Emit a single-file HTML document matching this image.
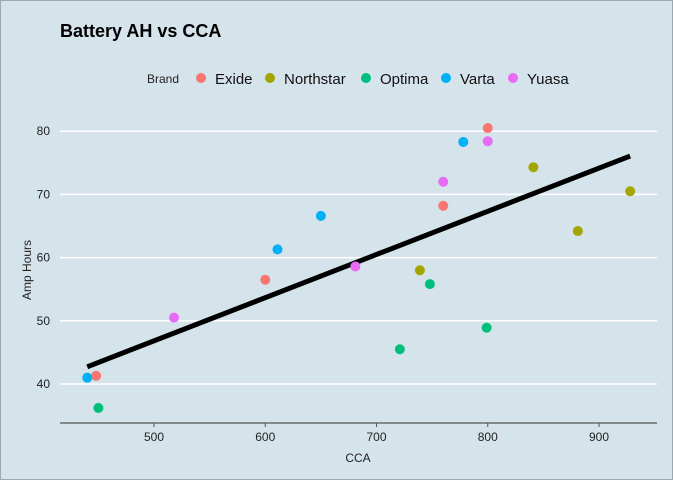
<!DOCTYPE html>
<html><head><meta charset="utf-8"><style>
body{margin:0;background:#d5e3ea;}
svg{display:block;font-family:"Liberation Sans",sans-serif;}
</style></head><body>
<svg id="c" width="673" height="480">
<rect x="0.5" y="0.5" width="672" height="479" fill="#d5e3ea" stroke="#9aa9b0"/>
<text x="60" y="37" font-size="18" font-weight="bold" fill="#000">Battery AH vs CCA</text>
<g id="legend"></g>
<g id="grid"></g>
<g id="axes"></g>
<g id="marks"></g>
<text x="358" y="462" font-size="12" text-anchor="middle" fill="#222">CCA</text>
<text x="0" y="0" font-size="12" text-anchor="middle" fill="#222" transform="translate(31,270) rotate(-90)">Amp Hours</text>
</svg>
<script>
const brands=["Exide","Northstar","Optima","Varta","Yuasa"];
const colors=["#f8766d","#a3a500","#00bf7d","#00b0f6","#e76bf3"];
const pointBrand=[0,0,0,0,1,1,1,1,2,2,2,2,3,3,3,3,4,4,4,4];
const cca=[448,600,760,800,739,841,881,928,450,721,748,799,440,611,650,778,518,681,760,800];
const ah=[41.3,56.5,68.2,80.5,58.0,74.3,64.2,70.5,36.2,45.5,55.8,48.9,41.0,61.3,66.6,78.3,50.5,58.6,72.0,78.4];
const xTicks=[500,600,700,800,900];
const yTicks=[40,50,60,70,80];
const NS="http://www.w3.org/2000/svg";
const sx=v=>154+(v-500)*1.1125;
const sy=v=>384-(v-40)*6.32;
function mk(t,a,p){const e=document.createElementNS(NS,t);for(const k in a)e.setAttribute(k,a[k]);p.appendChild(e);return e;}
const grid=document.getElementById('grid'),axes=document.getElementById('axes'),marks=document.getElementById('marks'),legend=document.getElementById('legend');
yTicks.forEach(v=>{
 const l=mk('line',{x1:60,x2:657,y1:sy(v),y2:sy(v),stroke:'#fff','stroke-width':1.5},grid);
 
 
 const t=mk('text',{x:50,y:sy(v)+4,'font-size':12,'text-anchor':'end',fill:'#222'},axes);t.textContent=v;
 
 
});
const ax=mk('line',{x1:60,x2:657,y1:423,y2:423,stroke:'#555','stroke-width':1.2},axes);


xTicks.forEach(v=>{
 const tk=mk('line',{x1:sx(v),x2:sx(v),y1:423,y2:427,stroke:'#555'},axes);
 
 
 const t=mk('text',{x:sx(v),y:441,'font-size':12,'text-anchor':'middle',fill:'#222'},axes);t.textContent=v;
 
 
});
// regression
const n=cca.length;let mx=0,my=0;for(let i=0;i<n;i++){mx+=cca[i];my+=ah[i];}mx/=n;my/=n;
let sxy=0,sxx=0;for(let i=0;i<n;i++){sxy+=(cca[i]-mx)*(ah[i]-my);sxx+=(cca[i]-mx)**2;}
const b=sxy/sxx,a0=my-b*mx;const xmin=Math.min(...cca),xmax=Math.max(...cca);
const rl=mk('line',{x1:sx(xmin),y1:sy(a0+b*xmin),x2:sx(xmax),y2:sy(a0+b*xmax),stroke:'#000','stroke-width':5},marks);


for(let i=0;i<n;i++){
 const c=mk('circle',{cx:sx(cca[i]),cy:sy(ah[i]),r:5,fill:colors[pointBrand[i]]},marks);
 
 
}
const lt=mk('text',{x:147,y:83,'font-size':12,fill:'#222'},legend);lt.textContent='Brand';


const lx=[201,270,366,446,513];
brands.forEach((br,i)=>{
 const c=mk('circle',{cx:lx[i],cy:78,r:5,fill:colors[i]},legend);
 
 
 const t=mk('text',{x:lx[i]+14,y:84,'font-size':15,fill:'#111'},legend);t.textContent=br;
 
 
});
</script>
</body></html>
